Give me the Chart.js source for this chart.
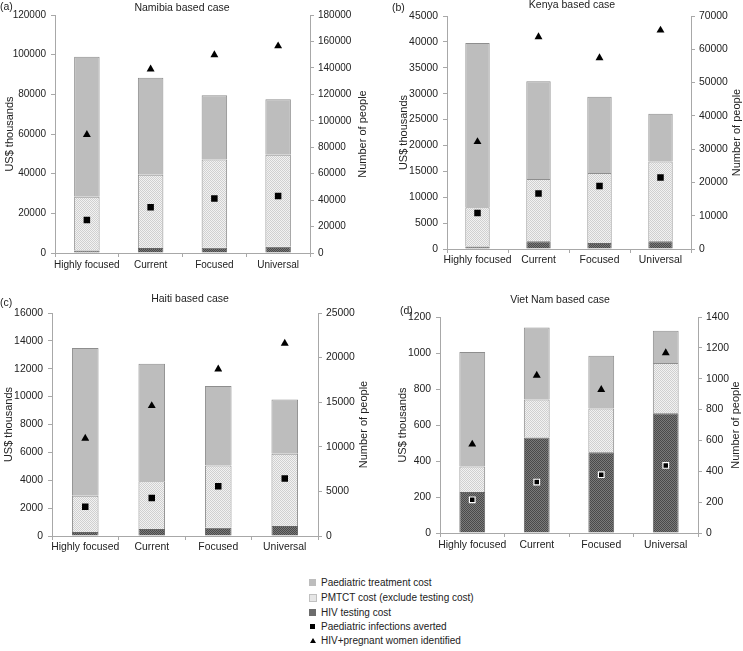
<!DOCTYPE html>
<html>
<head>
<meta charset="utf-8">
<script src="https://cdn.jsdelivr.net/npm/chart.js@4/dist/chart.umd.min.js"></script>
<style>
  body { margin: 0; background: #fff; }
  #wrap { position: relative; width: 743px; height: 651px; overflow: hidden; }
  .panel { position: absolute; }
  #legend { position: absolute; left: 306px; top: 575px; font: 10px "Liberation Sans", Arial, sans-serif; color: #222; }
  .item { position: absolute; left: 0; white-space: nowrap; height: 12px; line-height: 12px; }
  .item span { position: absolute; left: 15px; top: 0; }
  .sw { position: absolute; left: 3px; top: 2px; width: 7px; height: 7px; }
</style>
</head>
<body>
<div id="wrap">
  <canvas id="panelA" class="panel" width="372" height="280" style="left:0;top:0"></canvas>
  <canvas id="panelB" class="panel" width="371" height="280" style="left:372px;top:0"></canvas>
  <canvas id="panelC" class="panel" width="372" height="280" style="left:0;top:280px"></canvas>
  <canvas id="panelD" class="panel" width="371" height="280" style="left:372px;top:280px"></canvas>
  <div id="legend"></div>
</div>
<script>
const scenarios = ["Highly focused", "Current", "Focused", "Universal"];

// Namibia (US$ thousands, people)
const namibiaTesting = [1300, 2500, 2700, 3200];
const namibiaPmtct = [27000, 37000, 44500, 46300];
const namibiaPaed = [70700, 48800, 32400, 28000];
const namibiaAverted = [25000, 34600, 41300, 43200];
const namibiaWomen = [89500, 139000, 149800, 156500];
const namibiaTicks = [120000, 20000, 180000, 20000]; // left max, left step, right max, right step

// Kenya
const kenyaTesting = [500, 1500, 1150, 1500];
const kenyaPmtct = [7550, 12000, 13550, 15400];
const kenyaPaed = [31750, 18900, 14700, 9200];
const kenyaAverted = [10800, 16700, 18900, 21500];
const kenyaWomen = [32200, 63700, 57400, 65700];
const kenyaTicks = [45000, 5000, 70000, 10000];

// Haiti
const haitiTesting = [290, 500, 600, 720];
const haitiPmtct = [2600, 3430, 4460, 5180];
const haitiPaed = [10590, 8420, 5710, 3900];
const haitiAverted = [3280, 4250, 5570, 6440];
const haitiWomen = [10950, 14600, 18700, 21600];
const haitiTicks = [16000, 2000, 25000, 5000];

// Viet Nam
const vietnamTesting = [228, 530, 449, 665];
const vietnamPmtct = [142, 212, 243, 280];
const vietnamPaed = [636, 399, 293, 178];
const vietnamAverted = [215, 330, 378, 438];
const vietnamWomen = [575, 1021, 929, 1167];
const vietnamTicks = [1200, 200, 1400, 200];

const FONT = '"Liberation Sans", Arial, sans-serif';
const TEXT = "#222";
const AXIS = "#a8a8a8";
Chart.defaults.font.family = FONT;

// fine checker fill, like the dotted print shading
const makePattern = (base, dot) => {
    const c = document.createElement("canvas");
    c.width = 2; c.height = 2;
    const g = c.getContext("2d");
    g.fillStyle = base; g.fillRect(0, 0, 2, 2);
    g.fillStyle = dot;
    g.fillRect(0, 0, 1, 1); g.fillRect(1, 1, 1, 1);
    return g.createPattern(c, "repeat");
};
const pmtctFill = makePattern("#f2f2f2", "#d0d0d0");
const testingFill = makePattern("#7a7a7a", "#4a4a4a");
const paedFill = "#bdbdbd";

// draws rotated axis titles, case title and panel tag
const panelText = {
    id: "panelText",
    afterDraw(chart, args, o) {
        const { ctx, chartArea } = chart;
        const cy = (chartArea.top + chartArea.bottom) / 2;
        ctx.save();
        ctx.fillStyle = TEXT;
        ctx.font = "10.5px " + FONT;
        ctx.textBaseline = "middle";
        ctx.textAlign = "center";
        ctx.fillText(o.title, o.titleX, o.titleY);
        ctx.textAlign = "left";
        ctx.fillText(o.tag, o.tagX, o.tagY);
        ctx.textAlign = "center";
        ctx.font = "11px " + FONT;
        [[o.left, o.leftX], [o.right, o.rightX]].forEach(([t, x]) => {
            ctx.save();
            ctx.translate(x, cy);
            ctx.rotate(-Math.PI / 2);
            ctx.fillText(t, 0, 0);
            ctx.restore();
        });
        ctx.restore();
    }
};

const makePanel = (id, data, ticks, lay) => {
    const [testing, pmtct, paed, averted, women] = data;
    const tickFont = { size: lay.fs, family: FONT };
    const barBase = { borderColor: "#8e8e8e", borderWidth: 1, categoryPercentage: 1, barPercentage: 0.4, order: 2 };
    new Chart(document.getElementById(id), {
        type: "bar",
        plugins: [panelText],
        data: {
            labels: scenarios,
            datasets: [
                { ...barBase, label: "HIV testing cost", data: testing, backgroundColor: testingFill, borderColor: "#666" },
                { ...barBase, label: "PMTCT cost (exclude testing cost)", data: pmtct, backgroundColor: pmtctFill },
                { ...barBase, label: "Paediatric treatment cost", data: paed, backgroundColor: paedFill },
                {
                    type: "line", label: "Paediatric infections averted", data: averted, yAxisID: "y1",
                    showLine: false, pointStyle: "rect", pointRadius: lay.sqR,
                    pointBackgroundColor: "#000", pointBorderColor: lay.sqBorder, pointBorderWidth: lay.sqBW, order: 0
                },
                {
                    type: "line", label: "HIV+pregnant women identified", data: women, yAxisID: "y1",
                    showLine: false, pointStyle: "triangle", pointRadius: 4.6,
                    pointBackgroundColor: "#000", pointBorderWidth: 0, order: 0
                },
            ],
        },
        options: {
            responsive: false,
            animation: false,
            events: [],
            layout: { padding: { top: lay.top, left: 0, right: 0, bottom: 0 } },
            plugins: {
                legend: { display: false },
                tooltip: { enabled: false },
                panelText: lay.text,
            },
            scales: {
                x: {
                    stacked: true,
                    grid: { drawOnChartArea: false, tickLength: 4, color: AXIS, offset: true },
                    border: { color: AXIS },
                    ticks: { font: tickFont, color: TEXT, padding: lay.xPad, maxRotation: 0, autoSkip: false },
                    afterFit: (s) => { s.height = lay.xH; },
                },
                y: {
                    stacked: true, position: "left", min: 0, max: ticks[0],
                    grid: { drawOnChartArea: false, tickLength: 4, color: AXIS },
                    border: { color: AXIS },
                    ticks: { stepSize: ticks[1], font: tickFont, color: TEXT, padding: 5, callback: (v) => String(v) },
                    afterFit: (s) => { s.width = lay.yW; },
                },
                y1: {
                    position: "right", min: 0, max: ticks[2],
                    grid: { drawOnChartArea: false, tickLength: 4, color: AXIS },
                    border: { color: AXIS },
                    ticks: { stepSize: ticks[3], font: tickFont, color: TEXT, padding: 4, callback: (v) => String(v) },
                    afterFit: (s) => { s.width = lay.y1W; },
                },
            },
        },
    });
};

makePanel("panelA",
    [namibiaTesting, namibiaPmtct, namibiaPaed, namibiaAverted, namibiaWomen], namibiaTicks,
    { top: 15, yW: 55, y1W: 62, xH: 27, xPad: 2, fs: 10, sqR: 4.6, sqBorder: "#000", sqBW: 0,
      text: { title: "Namibia based case", titleX: 182, titleY: 8, tag: "(a)", tagX: 0, tagY: 7,
              left: "US$ thousands", leftX: 10, right: "Number of people", rightX: 363 } });

makePanel("panelB",
    [kenyaTesting, kenyaPmtct, kenyaPaed, kenyaAverted, kenyaWomen], kenyaTicks,
    { top: 16, yW: 75, y1W: 52, xH: 31, xPad: 1, fs: 10.4, sqR: 4.6, sqBorder: "#000", sqBW: 0,
      text: { title: "Kenya based case", titleX: 200, titleY: 5, tag: "(b)", tagX: 20, tagY: 8,
              left: "US$ thousands", leftX: 32, right: "Number of people", rightX: 365 } });

makePanel("panelC",
    [haitiTesting, haitiPmtct, haitiPaed, haitiAverted, haitiWomen], haitiTicks,
    { top: 33, yW: 52, y1W: 54, xH: 24, xPad: 1, fs: 10.4, sqR: 4.6, sqBorder: "#000", sqBW: 0,
      text: { title: "Haiti based case", titleX: 190, titleY: 19, tag: "(c)", tagX: 0, tagY: 23,
              left: "US$ thousands", leftX: 9, right: "Number of people", rightX: 364 } });

makePanel("panelD",
    [vietnamTesting, vietnamPmtct, vietnamPaed, vietnamAverted, vietnamWomen], vietnamTicks,
    { top: 37, yW: 68, y1W: 45, xH: 27, xPad: 2, fs: 10.4, sqR: 4, sqBorder: "#fff", sqBW: 1.2,
      text: { title: "Viet Nam based case", titleX: 188, titleY: 20, tag: "(d)", tagX: 28, tagY: 31,
              left: "US$ thousands", leftX: 31, right: "Number of people", rightX: 364 } });

// legend
const legendItems = [
    ["Paediatric treatment cost", "background:#bdbdbd"],
    ["PMTCT cost (exclude testing cost)", "background:#e6e6e6;border:1px solid #c0c0c0;width:6px;height:6px"],
    ["HIV testing cost", "background:#6c6c6c"],
    ["Paediatric infections averted", "background:#000;width:5px;height:5px;left:4px;top:3px"],
    ["HIV+pregnant women identified", "width:0;height:0;background:none;border-left:3px solid transparent;border-right:3px solid transparent;border-bottom:5px solid #000;left:4px;top:3px"],
];
const legendTops = [2, 17, 32, 46, 60];
const legendEl = document.getElementById("legend");
legendItems.forEach(([label, sw], i) => {
    const row = document.createElement("div");
    row.className = "item";
    row.style.top = legendTops[i] + "px";
    row.innerHTML = `<div class="sw" style="${sw}"></div><span>${label}</span>`;
    legendEl.appendChild(row);
});
</script>
</body>
</html>
